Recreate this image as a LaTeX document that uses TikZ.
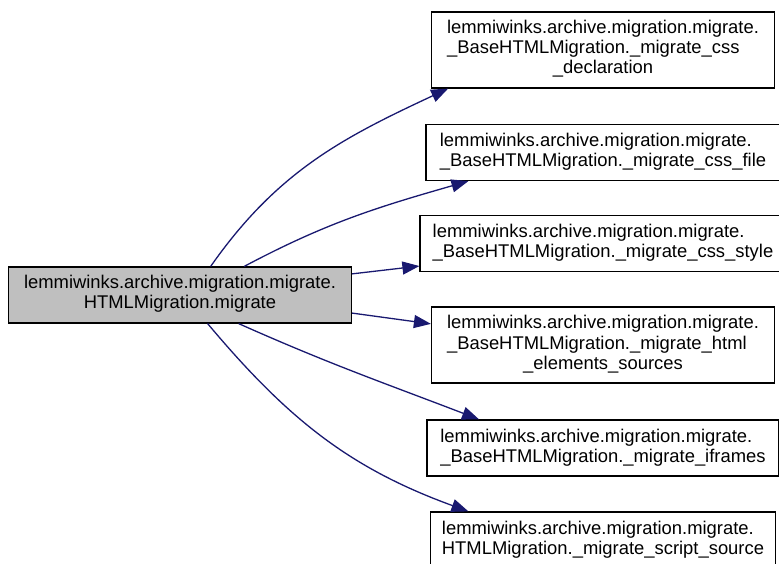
\documentclass[tikz,border=0pt]{standalone}
\usepackage{fontspec}
\setmainfont{Liberation Sans}
\usetikzlibrary{arrows.meta}
\definecolor{callgray}{RGB}{191,191,191}
\definecolor{callblue}{RGB}{25,25,112}
\newcommand{\labelfont}{\fontsize{18.4}{20}\selectfont}
% label: lines set flush left, the last one centred
\newcommand{\fnname}[2]{\begin{tabular}{@{}l@{}}#1\\\multicolumn{1}{@{}c@{}}{#2}\end{tabular}}
\tikzset{
  fn/.style     = {rectangle, draw=black, line width=1.2pt, fill=white,
                   minimum width=#1, minimum height=56pt, inner sep=0pt,
                   font=\labelfont},
  tall/.style   = {minimum height=76pt},
  caller/.style = {fn=#1, fill=callgray},
  call/.style   = {-{Triangle[length=17pt,width=13pt]}, line width=1.3pt,
                   draw=callblue},
}

\begin{document}
\begin{tikzpicture}[x=1pt, y=1pt]
  \useasboundingbox (0,0) rectangle (779,563);

  \node[caller=343pt] (migrate) at (180,268)
       {\fnname{lemmiwinks.archive.migration.migrate.}{HTMLMigration.migrate}};

  \node[fn=343pt, tall] (cssdecl) at (603,513)
       {\fnname{lemmiwinks.archive.migration.migrate.\\\_BaseHTMLMigration.\_migrate\_css}{\_declaration}};
  \node[fn=354pt] (cssfile) at (603,410.5)
       {\fnname{lemmiwinks.archive.migration.migrate.}{\_BaseHTMLMigration.\_migrate\_css\_file}};
  \node[fn=366pt] (cssstyle) at (603,319.5)
       {\fnname{lemmiwinks.archive.migration.migrate.}{\_BaseHTMLMigration.\_migrate\_css\_style}};
  \node[fn=343pt, tall] (htmlsrc) at (603,218)
       {\fnname{lemmiwinks.archive.migration.migrate.\\\_BaseHTMLMigration.\_migrate\_html}{\_elements\_sources}};
  \node[fn=352pt] (iframes) at (603,115)
       {\fnname{lemmiwinks.archive.migration.migrate.}{\_BaseHTMLMigration.\_migrate\_iframes}};
  \node[fn=345pt] (scriptsrc) at (603,23)
       {\fnname{lemmiwinks.archive.migration.migrate.}{HTMLMigration.\_migrate\_script\_source}};

  \draw[call] (migrate.43) to[out=55, in=205] (cssdecl.194.6);
  \draw[call] (migrate.24.3) to[out=28, in=196] (cssfile.192.5);
  \draw[call] (migrate.7.3) -- (cssstyle.187);
  \draw[call] (migrate.-6.6) -- (htmlsrc.173.7);
  \draw[call] (migrate.-26.2) to[out=-24, in=159] (iframes.167.2);
  \draw[call] (migrate.-46) to[out=-50, in=160] (scriptsrc.168.7);
\end{tikzpicture}
\end{document}
